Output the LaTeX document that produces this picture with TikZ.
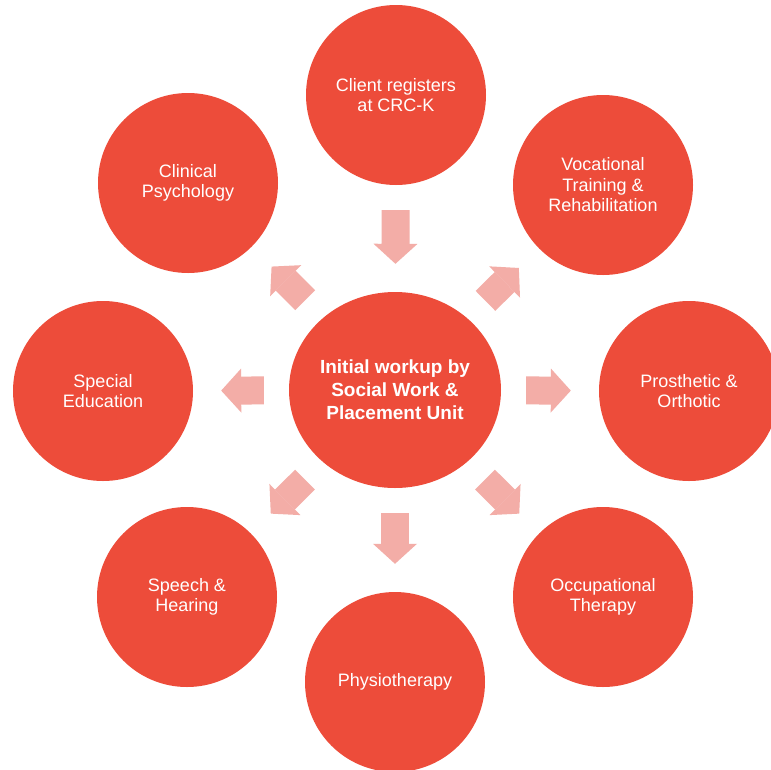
\documentclass[tikz,border=0pt]{standalone}
\usepackage{fontspec}
\setmainfont{Liberation Sans}
\usetikzlibrary{arrows.meta,shapes.geometric}
\definecolor{crcred}{RGB}{237,76,58}
\definecolor{crcpink}{RGB}{243,173,167}

\begin{document}
\begin{tikzpicture}[x=1pt, y=-1pt,
      unit/.style={circle, fill=crcred, minimum size=180pt, inner sep=0pt, text=white, align=center, font=\fontsize{18}{20.5}\selectfont},
      hubunit/.style={ellipse, fill=crcred, minimum width=212pt, minimum height=196pt, inner sep=0pt, text=white, align=center, font=\bfseries\fontsize{19}{23}\selectfont},
      flow/.style={draw=crcpink, line width=28pt, -{Triangle[length=20pt, width=44pt, line width=0pt]}, shorten <=25pt, shorten >=28pt}
    ]
      \path[use as bounding box, fill=white] (0,0) rectangle (771,769);

      % Centre
      \node[hubunit] (hub) at (395, 390) {Initial workup by\\Social Work \&\\Placement Unit};

      % Services round the centre
      \node[unit] (regtop) at (396, 95) {Client registers\\at CRC-K};
      \node[unit] (clinpsy) at (188, 183) {Clinical\\Psychology};
      \node[unit] (vocat) at (603, 185) {Vocational\\Training \&\\Rehabilitation};
      \node[unit] (specedu) at (103, 391) {Special\\Education};
      \node[unit] (prosth) at (689, 391) {Prosthetic \&\\Orthotic};
      \node[unit] (speech) at (187, 597) {Speech \&\\Hearing};
      \node[unit] (occup) at (603, 597) {Occupational\\Therapy};
      \node[unit] (physio) at (395, 682) {Physiotherapy};

      % Arrows
      \draw[flow] (regtop) -- (hub);
      \foreach \svc in {clinpsy, vocat, specedu, prosth, speech, occup, physio}
        \draw[flow] (hub) -- (\svc);
    \end{tikzpicture}
\end{document}
